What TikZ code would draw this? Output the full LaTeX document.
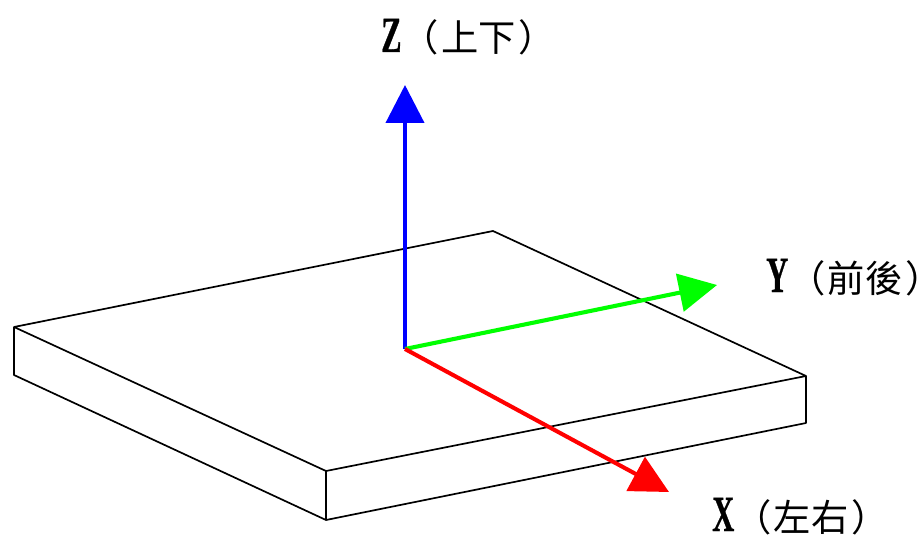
\documentclass[tikz,border=0pt]{standalone}
\usepackage{fontspec}
\newfontfamily\cjkfont{Noto Sans CJK TC}
\newfontfamily\axisfont[FakeStretch=0.6,FakeBold=0.6]{Liberation Serif Bold}
\usetikzlibrary{arrows.meta}
\newcommand{\axisname}[3]{{\fontsize{36}{36}\axisfont #1}\cjkfont（\kern1.8pt #2#3\kern2pt）}
\tikzset{
  plate/.style={draw=black, line width=1.2pt, line join=round},
  axisline/.style={line width=2.9pt, -{Triangle[length=27pt, width=27pt]}},
  axislabel/.style={anchor=base west, inner sep=0pt, font=\fontsize{26.5}{26.5}\selectfont},
}
\begin{document}
\begin{tikzpicture}[x=0.025cm, y=-0.025cm]
    \useasboundingbox (0,0) rectangle (924,537);
    % plate corners
    \coordinate (backleft) at (14,327);
    \coordinate (back) at (493,231);
    \coordinate (right) at (806,376);
    \coordinate (front) at (326,471);
    \coordinate (lowleft) at (14,375);
    \coordinate (lowfront) at (326,520);
    \coordinate (lowright) at (806,423);
    \draw[plate] (backleft) -- (back) -- (right) -- (front) -- cycle;
    \draw[plate] (backleft) -- (lowleft) -- (lowfront) -- (lowright) -- (right);
    \draw[plate] (front) -- (lowfront);
    % axes
    \coordinate (origin) at (405,349);
    \coordinate (ztip) at (405,85);
    \coordinate (ytip) at (717,285);
    \coordinate (xtip) at (669,492);
    \draw[axisline, blue] (origin) -- (ztip);
    \draw[axisline, green] (origin) -- (ytip);
    \draw[axisline, red] (origin) -- (xtip);
    \node[axislabel] (zlabel) at (381,52) {\axisname{Z}{上}{下}};
    \node[axislabel] (ylabel) at (766,292) {\axisname{Y}{前}{後}};
    \node[axislabel] (xlabel) at (712,531) {\axisname{X}{左}{右}};
\end{tikzpicture}
\end{document}
